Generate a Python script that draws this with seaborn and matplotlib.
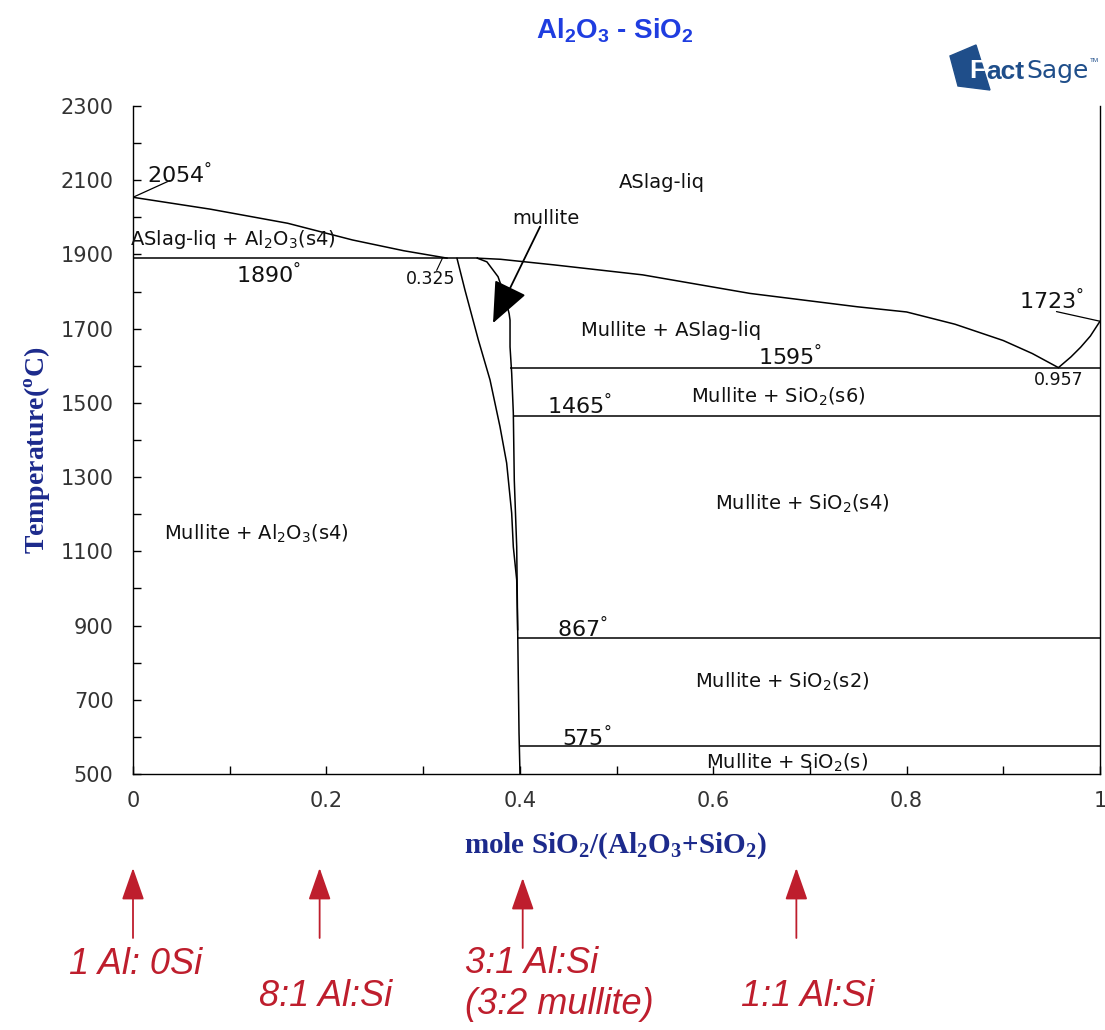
import seaborn as sns
import matplotlib.pyplot as plt
from matplotlib.patches import Polygon
from matplotlib.ticker import MultipleLocator

# phase boundaries (x = mole fraction SiO2, T in C)
liq_left_x = [0, 0.08, 0.16, 0.227, 0.28, 0.325]
liq_left_t = [2054, 2022, 1984, 1939, 1910, 1890]

liq_mid_x = [0.356, 0.38, 0.435, 0.527, 0.638, 0.749, 0.80, 0.85, 0.90, 0.93, 0.957]
liq_mid_t = [1890, 1887, 1872, 1845, 1795, 1759, 1745, 1712, 1668, 1633, 1595]

liq_right_x = [0.957, 0.97, 0.98, 0.99, 0.995, 1.0]
liq_right_t = [1595, 1624, 1650, 1680, 1700, 1720]

mul_left_x = [0.335, 0.3433, 0.3571, 0.3692, 0.3795, 0.3864, 0.3916, 0.3933, 0.3968, 0.3978]
mul_left_t = [1890, 1804, 1670, 1562, 1436, 1338, 1203, 1112, 1023, 888]

mul_right_x = [0.356, 0.366, 0.3775, 0.3847, 0.389, 0.3899, 0.3899, 0.3916, 0.3933,
               0.3943, 0.3968, 0.3978, 0.3992, 0.4002]
mul_right_t = [1890, 1880, 1840, 1786, 1740, 1723, 1651, 1580, 1473,
               1292, 1112, 888, 610, 500]

# invariant (horizontal) lines
inv_t = [1890, 1595, 1465, 867, 575]
inv_x0 = [0, 0.39, 0.393, 0.397, 0.40]
inv_x1 = [0.357, 1, 1, 1, 1]

y_ticks = [500, 700, 900, 1100, 1300, 1500, 1700, 1900, 2100, 2300]

# composition markers under the axis
ratio_x = [0, 0.193, 0.403, 0.686]
ratio_labels = ['1 Al: 0Si', '8:1 Al:Si', '3:1 Al:Si\n(3:2 mullite)', '1:1 Al:Si']

sns.set_style('ticks')
plt.rcParams['font.family'] = ['DejaVu Sans']

fig = plt.figure(figsize=(11.05, 10.30), dpi=100)
ax = fig.add_axes([133 / 1105, 1 - 774 / 1030, 967 / 1105, 668 / 1030])

lw = 1.1
for xs, ts in [(liq_left_x, liq_left_t), (liq_mid_x, liq_mid_t), (liq_right_x, liq_right_t),
               (mul_left_x, mul_left_t), (mul_right_x, mul_right_t)]:
    sns.lineplot(x=xs, y=ts, sort=False, estimator=None, color='black', lw=lw, ax=ax)
ax.hlines(inv_t, inv_x0, inv_x1, color='black', lw=lw)

# leader lines for the labelled points
ax.plot([0, 0.038], [2054, 2099], color='black', lw=0.9)
ax.plot([0.955, 1.0], [1746, 1720], color='black', lw=0.9)
ax.plot([0.32, 0.314], [1890, 1857], color='black', lw=0.8)

ax.set_xlim(0, 1)
ax.set_ylim(500, 2300)
ax.xaxis.set_major_locator(MultipleLocator(0.2))
ax.xaxis.set_minor_locator(MultipleLocator(0.1))
ax.set_yticks(y_ticks)
ax.yaxis.set_minor_locator(MultipleLocator(100))
ax.xaxis.set_major_formatter(plt.FuncFormatter(lambda v, p: f'{v:g}'))
ax.tick_params(which='both', direction='in', length=6, width=1, color='black')
ax.tick_params(axis='y', labelsize=15, labelcolor='#333333', pad=14)
ax.tick_params(axis='x', labelsize=15, labelcolor='#333333', pad=12)
ax.spines['top'].set_visible(False)
for s in ['left', 'bottom', 'right']:
    ax.spines[s].set_linewidth(1.0)
    ax.spines[s].set_color('black')

# region labels
reg = dict(fontsize=14, ha='center', va='center', color='#111111')
ax.text(0.547, 2094, 'ASlag-liq', **reg)
ax.text(-0.003, 1939, 'ASlag-liq + Al$_2$O$_3$(s4)', fontsize=14, ha='left', va='center', color='#111111')
ax.text(0.556, 1696, 'Mullite + ASlag-liq', **reg)
ax.text(0.667, 1516, 'Mullite + SiO$_2$(s6)', **reg)
ax.text(0.692, 1228, 'Mullite + SiO$_2$(s4)', **reg)
ax.text(0.128, 1147, 'Mullite + Al$_2$O$_3$(s4)', **reg)
ax.text(0.671, 748, 'Mullite + SiO$_2$(s2)', **reg)
ax.text(0.676, 530, 'Mullite + SiO$_2$(s)', **reg)
ax.text(0.427, 1998, 'mullite', **reg)

# temperature / composition labels
tl = dict(fontsize=16, ha='center', va='center', color='#111111')
deg = '$^{\\mathregular{°}}$'
ax.text(0.048, 2114, '2054' + deg, **tl)
for t, (lx, ly) in zip(inv_t, [(0.14, 1845), (0.679, 1624), (0.462, 1494), (0.465, 893), (0.469, 597)]):
    ax.text(lx, ly, f'{t}' + deg, **tl)
ax.text(0.95, 1777, '1723' + deg, **tl)
ax.text(0.308, 1835, '0.325', fontsize=12.5, ha='center', va='center', color='#111111')
ax.text(0.957, 1562, '0.957', fontsize=12.5, ha='center', va='center', color='#111111')

ax.annotate('', xy=(0.3723, 1715), xytext=(0.421, 1975),
            arrowprops=dict(arrowstyle='-|>,head_length=1.3,head_width=0.55',
                            mutation_scale=20, color='black', lw=1.3, shrinkA=0, shrinkB=0))

# titles and axis labels
fig.text(615 / 1105, 1 - 31 / 1030, r'Al$_\mathregular{2}$O$_\mathregular{3}$ - SiO$_\mathregular{2}$',
         family='Liberation Sans', weight='bold', fontsize=20, color='#1f3de0', ha='center', va='center')
navy = '#1c2a8c'
fig.text(38 / 1105, 1 - 450 / 1030, r'Temperature($^\mathregular{o}$C)', family='Liberation Serif',
         weight='bold', fontsize=20, color=navy, rotation=90, ha='center', va='center')
fig.text(615 / 1105, 1 - 846 / 1030,
         r'mole SiO$_\mathregular{2}$/(Al$_\mathregular{2}$O$_\mathregular{3}$+SiO$_\mathregular{2}$)',
         family='Liberation Serif', weight='bold', fontsize=21, color=navy, ha='center', va='center')

# FactSage logo
logo = '#1f4e8a'
fig.patches.append(Polygon([[950 / 1105, 1 - 56 / 1030], [976 / 1105, 1 - 45 / 1030],
                            [990 / 1105, 1 - 90 / 1030], [958 / 1105, 1 - 86 / 1030]],
                           closed=True, transform=fig.transFigure, color=logo))
fig.text(969 / 1105, 1 - 71 / 1030, 'F', family='Liberation Sans', weight='bold', fontsize=19,
         color='white', ha='left', va='center')
fig.text(986 / 1105, 1 - 72 / 1030, 'act', family='Liberation Sans', weight='bold', fontsize=19,
         color=logo, ha='left', va='center')
fig.text(1026 / 1105, 1 - 71 / 1030, 'Sage', family='Liberation Sans Narrow', fontsize=18,
         color=logo, ha='left', va='center')
fig.text(1090 / 1105, 1 - 60 / 1030, 'TM', family='Liberation Sans', fontsize=4.5,
         color=logo, ha='left', va='center')

# composition arrows below the axis
red = '#be1e2d'
tr = ax.get_xaxis_transform()
tip = [-0.1407, -0.1407, -0.1557, -0.1407]
tail = [-0.2455, -0.2455, -0.2605, -0.2455]
for xv, yt, yb in zip(ratio_x, tip, tail):
    ax.annotate('', xy=(xv, yt), xytext=(xv, yb), xycoords=tr, textcoords=tr,
                arrowprops=dict(arrowstyle='-|>,head_length=1.0,head_width=0.35',
                                mutation_scale=20, color=red, lw=1.3, shrinkA=0, shrinkB=0),
                annotation_clip=False)
rt = dict(family='Liberation Sans', style='italic', fontsize=26, color=red, va='center')
fig.text(136 / 1105, 1 - 965 / 1030, ratio_labels[0], ha='center', **rt)
fig.text(326 / 1105, 1 - 997 / 1030, ratio_labels[1], ha='center', **rt)
fig.text(465 / 1105, 1 - 984 / 1030, ratio_labels[2], ha='left', linespacing=1.25, **rt)
fig.text(808 / 1105, 1 - 997 / 1030, ratio_labels[3], ha='center', **rt)

fig.savefig('out.png', dpi=100)
